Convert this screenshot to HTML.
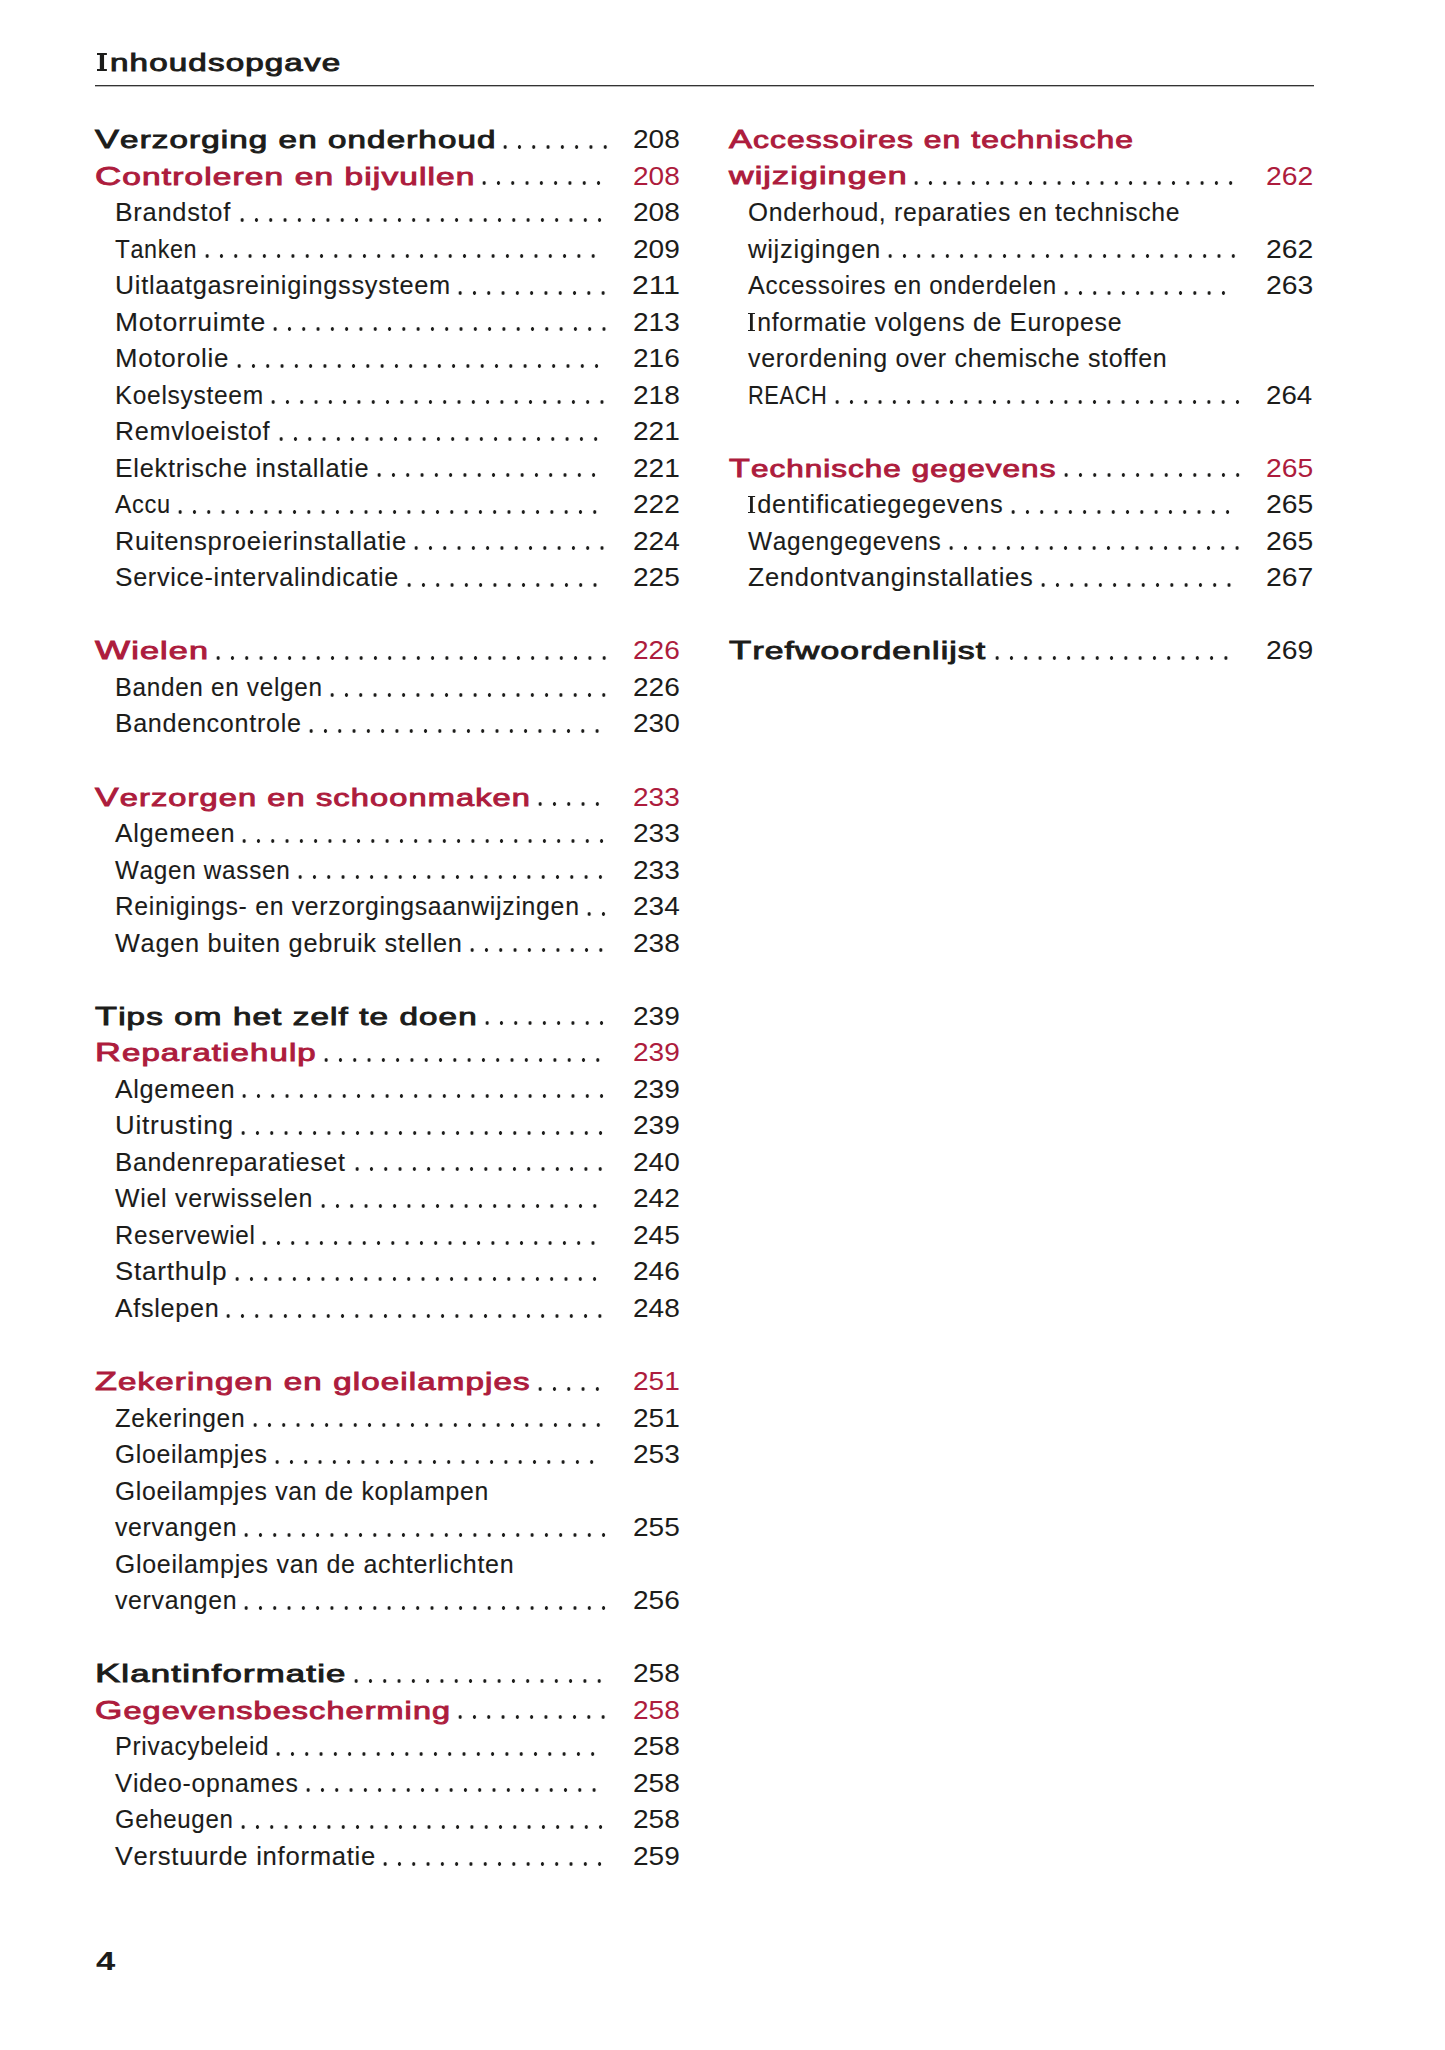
<!DOCTYPE html>
<html lang="nl"><head><meta charset="utf-8"><title>Inhoudsopgave</title>
<style>
html,body{margin:0;padding:0;background:#fff;}
body{width:1445px;height:2050px;position:relative;overflow:hidden;font-family:"Liberation Sans",sans-serif;}
.t{position:absolute;line-height:30px;height:30px;white-space:nowrap;transform-origin:0 0;}
.s{font-size:25.0px;letter-spacing:0.7px;-webkit-text-stroke:0.1px currentColor;}
.s .u{font-size:26.0px;}
.h{font-size:23.5px;letter-spacing:0.8px;-webkit-text-stroke:0.9px currentColor;}
.h .u{font-size:25.5px;}
.n{font-size:25.5px;}
.hb{font-size:26px;font-weight:bold;}
.I{display:inline-block;overflow:hidden;box-sizing:border-box;vertical-align:baseline;border:0 solid currentColor;background-image:linear-gradient(currentColor,currentColor);background-repeat:no-repeat;background-position:50% 0;-webkit-text-fill-color:transparent;-webkit-text-stroke:0;font-size:12px;line-height:0;}
.d{position:absolute;height:6px;background-image:radial-gradient(circle at 7.15px 3px,#1c1c1a 1.5px,rgba(28,28,26,0) 2.0px);background-size:14.3px 6px;background-repeat:repeat-x;}
.rule{position:absolute;left:95px;top:85px;width:1218.5px;height:1px;background:#333;box-shadow:0 1px 0 rgba(51,51,51,0.35);}
</style></head><body>
<div class="rule"></div>
<div class="t h" style="left:95.40px;top:124.00px;color:#1c1c1a;transform:scaleX(1.4090)"><span class="u">V</span>erzorging en onderhoud</div>
<div class="t n" style="left:632.90px;top:124.00px;color:#1c1c1a;transform:scaleX(1.1005)">208</div>
<div class="t h" style="left:95.40px;top:160.53px;color:#ad1c3d;transform:scaleX(1.4224)"><span class="u">C</span>ontroleren en bijvullen</div>
<div class="t n" style="left:632.90px;top:160.53px;color:#ad1c3d;transform:scaleX(1.1005)">208</div>
<div class="t s" style="left:114.50px;top:197.06px;color:#1c1c1a;transform:scaleX(1.0177)"><span class="u">B</span>randstof</div>
<div class="t n" style="left:632.90px;top:197.06px;color:#1c1c1a;transform:scaleX(1.1005)">208</div>
<div class="t s" style="left:114.50px;top:233.59px;color:#1c1c1a;transform:scaleX(0.9323)"><span class="u">T</span>anken</div>
<div class="t n" style="left:632.90px;top:233.59px;color:#1c1c1a;transform:scaleX(1.1005)">209</div>
<div class="t s" style="left:114.50px;top:270.12px;color:#1c1c1a;transform:scaleX(1.0152)"><span class="u">U</span>itlaatgasreinigingssysteem</div>
<div class="t n" style="left:631.80px;top:270.12px;color:#1c1c1a;transform:scaleX(1.1801)">211</div>
<div class="t s" style="left:114.50px;top:306.65px;color:#1c1c1a;transform:scaleX(1.0641)"><span class="u">M</span>otorruimte</div>
<div class="t n" style="left:632.90px;top:306.65px;color:#1c1c1a;transform:scaleX(1.1005)">213</div>
<div class="t s" style="left:114.50px;top:343.18px;color:#1c1c1a;transform:scaleX(1.0387)"><span class="u">M</span>otorolie</div>
<div class="t n" style="left:632.90px;top:343.18px;color:#1c1c1a;transform:scaleX(1.1005)">216</div>
<div class="t s" style="left:114.50px;top:379.71px;color:#1c1c1a;transform:scaleX(0.9826)"><span class="u">K</span>oelsysteem</div>
<div class="t n" style="left:632.90px;top:379.71px;color:#1c1c1a;transform:scaleX(1.1005)">218</div>
<div class="t s" style="left:114.50px;top:416.24px;color:#1c1c1a;transform:scaleX(1.0104)"><span class="u">R</span>emvloeistof</div>
<div class="t n" style="left:632.90px;top:416.24px;color:#1c1c1a;transform:scaleX(1.1005)">221</div>
<div class="t s" style="left:114.50px;top:452.77px;color:#1c1c1a;transform:scaleX(1.0161)"><span class="u">E</span>lektrische installatie</div>
<div class="t n" style="left:632.90px;top:452.77px;color:#1c1c1a;transform:scaleX(1.1005)">221</div>
<div class="t s" style="left:114.50px;top:489.30px;color:#1c1c1a;transform:scaleX(0.9435)"><span class="u">A</span>ccu</div>
<div class="t n" style="left:632.90px;top:489.30px;color:#1c1c1a;transform:scaleX(1.1005)">222</div>
<div class="t s" style="left:114.50px;top:525.83px;color:#1c1c1a;transform:scaleX(1.0240)"><span class="u">R</span>uitensproeierinstallatie</div>
<div class="t n" style="left:632.90px;top:525.83px;color:#1c1c1a;transform:scaleX(1.0976)">224</div>
<div class="t s" style="left:114.50px;top:562.36px;color:#1c1c1a;transform:scaleX(1.0064)"><span class="u">S</span>ervice-intervalindicatie</div>
<div class="t n" style="left:632.90px;top:562.36px;color:#1c1c1a;transform:scaleX(1.1005)">225</div>
<div class="t h" style="left:95.40px;top:635.42px;color:#ad1c3d;transform:scaleX(1.4543)"><span class="u">W</span>ielen</div>
<div class="t n" style="left:632.90px;top:635.42px;color:#ad1c3d;transform:scaleX(1.1005)">226</div>
<div class="t s" style="left:114.50px;top:671.95px;color:#1c1c1a;transform:scaleX(0.9726)"><span class="u">B</span>anden en velgen</div>
<div class="t n" style="left:632.90px;top:671.95px;color:#1c1c1a;transform:scaleX(1.1005)">226</div>
<div class="t s" style="left:114.50px;top:708.48px;color:#1c1c1a;transform:scaleX(1.0055)"><span class="u">B</span>andencontrole</div>
<div class="t n" style="left:632.90px;top:708.48px;color:#1c1c1a;transform:scaleX(1.0976)">230</div>
<div class="t h" style="left:95.40px;top:781.54px;color:#ad1c3d;transform:scaleX(1.3864)"><span class="u">V</span>erzorgen en schoonmaken</div>
<div class="t n" style="left:632.90px;top:781.54px;color:#ad1c3d;transform:scaleX(1.1005)">233</div>
<div class="t s" style="left:114.50px;top:818.07px;color:#1c1c1a;transform:scaleX(1.0120)"><span class="u">A</span>lgemeen</div>
<div class="t n" style="left:632.90px;top:818.07px;color:#1c1c1a;transform:scaleX(1.1005)">233</div>
<div class="t s" style="left:114.50px;top:854.60px;color:#1c1c1a;transform:scaleX(0.9731)"><span class="u">W</span>agen wassen</div>
<div class="t n" style="left:632.90px;top:854.60px;color:#1c1c1a;transform:scaleX(1.1005)">233</div>
<div class="t s" style="left:114.50px;top:891.13px;color:#1c1c1a;transform:scaleX(0.9931)"><span class="u">R</span>einigings- en verzorgingsaanwijzingen</div>
<div class="t n" style="left:632.90px;top:891.13px;color:#1c1c1a;transform:scaleX(1.0976)">234</div>
<div class="t s" style="left:114.50px;top:927.66px;color:#1c1c1a;transform:scaleX(1.0135)"><span class="u">W</span>agen buiten gebruik stellen</div>
<div class="t n" style="left:632.90px;top:927.66px;color:#1c1c1a;transform:scaleX(1.1005)">238</div>
<div class="t h" style="left:95.40px;top:1000.72px;color:#1c1c1a;transform:scaleX(1.4110)"><span class="u">T</span>ips om het zelf te doen</div>
<div class="t n" style="left:632.90px;top:1000.72px;color:#1c1c1a;transform:scaleX(1.1005)">239</div>
<div class="t h" style="left:95.40px;top:1037.25px;color:#ad1c3d;transform:scaleX(1.4023)"><span class="u">R</span>eparatiehulp</div>
<div class="t n" style="left:632.90px;top:1037.25px;color:#ad1c3d;transform:scaleX(1.1005)">239</div>
<div class="t s" style="left:114.50px;top:1073.78px;color:#1c1c1a;transform:scaleX(1.0120)"><span class="u">A</span>lgemeen</div>
<div class="t n" style="left:632.90px;top:1073.78px;color:#1c1c1a;transform:scaleX(1.1005)">239</div>
<div class="t s" style="left:114.50px;top:1110.31px;color:#1c1c1a;transform:scaleX(1.0485)"><span class="u">U</span>itrusting</div>
<div class="t n" style="left:632.90px;top:1110.31px;color:#1c1c1a;transform:scaleX(1.1005)">239</div>
<div class="t s" style="left:114.50px;top:1146.84px;color:#1c1c1a;transform:scaleX(0.9966)"><span class="u">B</span>andenreparatieset</div>
<div class="t n" style="left:632.90px;top:1146.84px;color:#1c1c1a;transform:scaleX(1.0976)">240</div>
<div class="t s" style="left:114.50px;top:1183.37px;color:#1c1c1a;transform:scaleX(0.9990)"><span class="u">W</span>iel verwisselen</div>
<div class="t n" style="left:632.90px;top:1183.37px;color:#1c1c1a;transform:scaleX(1.1005)">242</div>
<div class="t s" style="left:114.50px;top:1219.90px;color:#1c1c1a;transform:scaleX(0.9719)"><span class="u">R</span>eservewiel</div>
<div class="t n" style="left:632.90px;top:1219.90px;color:#1c1c1a;transform:scaleX(1.1005)">245</div>
<div class="t s" style="left:114.50px;top:1256.43px;color:#1c1c1a;transform:scaleX(1.0493)"><span class="u">S</span>tarthulp</div>
<div class="t n" style="left:632.90px;top:1256.43px;color:#1c1c1a;transform:scaleX(1.1005)">246</div>
<div class="t s" style="left:114.50px;top:1292.96px;color:#1c1c1a;transform:scaleX(1.0079)"><span class="u">A</span>fslepen</div>
<div class="t n" style="left:632.90px;top:1292.96px;color:#1c1c1a;transform:scaleX(1.1005)">248</div>
<div class="t h" style="left:95.40px;top:1366.02px;color:#ad1c3d;transform:scaleX(1.4077)"><span class="u">Z</span>ekeringen en gloeilampjes</div>
<div class="t n" style="left:632.90px;top:1366.02px;color:#ad1c3d;transform:scaleX(1.1005)">251</div>
<div class="t s" style="left:114.50px;top:1402.55px;color:#1c1c1a;transform:scaleX(0.9817)"><span class="u">Z</span>ekeringen</div>
<div class="t n" style="left:632.90px;top:1402.55px;color:#1c1c1a;transform:scaleX(1.1005)">251</div>
<div class="t s" style="left:114.50px;top:1439.08px;color:#1c1c1a;transform:scaleX(0.9934)"><span class="u">G</span>loeilampjes</div>
<div class="t n" style="left:632.90px;top:1439.08px;color:#1c1c1a;transform:scaleX(1.1005)">253</div>
<div class="t s" style="left:114.50px;top:1475.61px;color:#1c1c1a;transform:scaleX(0.9925)"><span class="u">G</span>loeilampjes van de koplampen</div>
<div class="t s" style="left:114.50px;top:1512.14px;color:#1c1c1a;transform:scaleX(0.9934)">vervangen</div>
<div class="t n" style="left:632.90px;top:1512.14px;color:#1c1c1a;transform:scaleX(1.1005)">255</div>
<div class="t s" style="left:114.50px;top:1548.67px;color:#1c1c1a;transform:scaleX(1.0005)"><span class="u">G</span>loeilampjes van de achterlichten</div>
<div class="t s" style="left:114.50px;top:1585.20px;color:#1c1c1a;transform:scaleX(0.9934)">vervangen</div>
<div class="t n" style="left:632.90px;top:1585.20px;color:#1c1c1a;transform:scaleX(1.1005)">256</div>
<div class="t h" style="left:95.40px;top:1658.26px;color:#1c1c1a;transform:scaleX(1.4792)"><span class="u">K</span>lantinformatie</div>
<div class="t n" style="left:632.90px;top:1658.26px;color:#1c1c1a;transform:scaleX(1.1005)">258</div>
<div class="t h" style="left:95.40px;top:1694.79px;color:#ad1c3d;transform:scaleX(1.3780)"><span class="u">G</span>egevensbescherming</div>
<div class="t n" style="left:632.90px;top:1694.79px;color:#ad1c3d;transform:scaleX(1.1005)">258</div>
<div class="t s" style="left:114.50px;top:1731.32px;color:#1c1c1a;transform:scaleX(0.9732)"><span class="u">P</span>rivacybeleid</div>
<div class="t n" style="left:632.90px;top:1731.32px;color:#1c1c1a;transform:scaleX(1.1005)">258</div>
<div class="t s" style="left:114.50px;top:1767.85px;color:#1c1c1a;transform:scaleX(0.9924)"><span class="u">V</span>ideo-opnames</div>
<div class="t n" style="left:632.90px;top:1767.85px;color:#1c1c1a;transform:scaleX(1.1005)">258</div>
<div class="t s" style="left:114.50px;top:1804.38px;color:#1c1c1a;transform:scaleX(0.9620)"><span class="u">G</span>eheugen</div>
<div class="t n" style="left:632.90px;top:1804.38px;color:#1c1c1a;transform:scaleX(1.1005)">258</div>
<div class="t s" style="left:114.50px;top:1840.91px;color:#1c1c1a;transform:scaleX(1.0261)"><span class="u">V</span>erstuurde informatie</div>
<div class="t n" style="left:632.90px;top:1840.91px;color:#1c1c1a;transform:scaleX(1.1005)">259</div>
<div class="t h" style="left:729.00px;top:124.00px;color:#ad1c3d;transform:scaleX(1.3517)"><span class="u">A</span>ccessoires en technische</div>
<div class="t h" style="left:729.00px;top:160.53px;color:#ad1c3d;transform:scaleX(1.4443)">wijzigingen</div>
<div class="t n" style="left:1265.83px;top:160.53px;color:#ad1c3d;transform:scaleX(1.1102)">262</div>
<div class="t s" style="left:748.00px;top:197.06px;color:#1c1c1a;transform:scaleX(0.9899)"><span class="u">O</span>nderhoud, reparaties en technische</div>
<div class="t s" style="left:748.00px;top:233.59px;color:#1c1c1a;transform:scaleX(1.0235)">wijzigingen</div>
<div class="t n" style="left:1265.83px;top:233.59px;color:#1c1c1a;transform:scaleX(1.1102)">262</div>
<div class="t s" style="left:748.00px;top:270.12px;color:#1c1c1a;transform:scaleX(0.9660)"><span class="u">A</span>ccessoires en onderdelen</div>
<div class="t n" style="left:1265.83px;top:270.12px;color:#1c1c1a;transform:scaleX(1.1102)">263</div>
<div class="t s" style="left:748.00px;top:306.65px;color:#1c1c1a;transform:scaleX(0.9947)"><span class="I" style="width:7.038px;height:17.8px;border-top-width:1.7px;border-bottom-width:1.7px;background-size:2.815px 100%;margin-right:2.212px">I</span>nformatie volgens de <span class="u">E</span>uropese</div>
<div class="t s" style="left:748.00px;top:343.18px;color:#1c1c1a;transform:scaleX(1.0000)">verordening over chemische stoffen</div>
<div class="t s" style="left:748.00px;top:379.71px;color:#1c1c1a;transform:scaleX(0.8392)"><span class="u">REACH</span></div>
<div class="t n" style="left:1265.85px;top:379.71px;color:#1c1c1a;transform:scaleX(1.0861)">264</div>
<div class="t h" style="left:729.00px;top:452.77px;color:#ad1c3d;transform:scaleX(1.3361)"><span class="u">T</span>echnische gegevens</div>
<div class="t n" style="left:1265.83px;top:452.77px;color:#ad1c3d;transform:scaleX(1.1102)">265</div>
<div class="t s" style="left:748.00px;top:489.30px;color:#1c1c1a;transform:scaleX(1.0176)"><span class="I" style="width:6.879px;height:17.8px;border-top-width:1.7px;border-bottom-width:1.7px;background-size:2.752px 100%;margin-right:2.162px">I</span>dentificatiegegevens</div>
<div class="t n" style="left:1265.83px;top:489.30px;color:#1c1c1a;transform:scaleX(1.1102)">265</div>
<div class="t s" style="left:748.00px;top:525.83px;color:#1c1c1a;transform:scaleX(0.9786)"><span class="u">W</span>agengegevens</div>
<div class="t n" style="left:1265.83px;top:525.83px;color:#1c1c1a;transform:scaleX(1.1102)">265</div>
<div class="t s" style="left:748.00px;top:562.36px;color:#1c1c1a;transform:scaleX(1.0216)"><span class="u">Z</span>endontvanginstallaties</div>
<div class="t n" style="left:1265.83px;top:562.36px;color:#1c1c1a;transform:scaleX(1.1102)">267</div>
<div class="t h" style="left:729.00px;top:635.42px;color:#1c1c1a;transform:scaleX(1.4302)"><span class="u">T</span>refwoordenlijst</div>
<div class="t n" style="left:1265.83px;top:635.42px;color:#1c1c1a;transform:scaleX(1.1102)">269</div>
<div class="t h" style="left:96.85px;top:47.80px;color:#1c1c1a;transform:scaleX(1.4119)"><span class="I" style="width:7.082px;height:17.9px;border-top-width:2.3px;border-bottom-width:2.3px;background-size:3.329px 100%;margin-right:2.125px">I</span>nhoudsopgave</div>
<div class="t hb" style="left:95.85px;top:1945.70px;color:#1c1c1a;transform:scaleX(1.3300)">4</div>
<div class="d" style="left:497.85px;top:143.60px;width:114.40px"></div>
<div class="d" style="left:477.15px;top:180.13px;width:128.70px"></div>
<div class="d" style="left:234.85px;top:216.66px;width:371.80px"></div>
<div class="d" style="left:199.65px;top:253.19px;width:400.40px"></div>
<div class="d" style="left:453.35px;top:289.72px;width:157.30px"></div>
<div class="d" style="left:268.35px;top:326.25px;width:343.20px"></div>
<div class="d" style="left:232.15px;top:362.78px;width:371.80px"></div>
<div class="d" style="left:265.95px;top:399.31px;width:343.20px"></div>
<div class="d" style="left:273.75px;top:435.84px;width:328.90px"></div>
<div class="d" style="left:371.85px;top:472.37px;width:228.80px"></div>
<div class="d" style="left:172.55px;top:508.90px;width:429.00px"></div>
<div class="d" style="left:409.05px;top:545.43px;width:200.20px"></div>
<div class="d" style="left:401.55px;top:581.96px;width:200.20px"></div>
<div class="d" style="left:210.55px;top:655.02px;width:400.40px"></div>
<div class="d" style="left:325.15px;top:691.55px;width:286.00px"></div>
<div class="d" style="left:304.35px;top:728.08px;width:300.30px"></div>
<div class="d" style="left:533.05px;top:801.14px;width:71.50px"></div>
<div class="d" style="left:236.95px;top:837.67px;width:371.80px"></div>
<div class="d" style="left:292.65px;top:874.20px;width:314.60px"></div>
<div class="d" style="left:582.05px;top:910.73px;width:28.60px"></div>
<div class="d" style="left:465.25px;top:947.26px;width:143.00px"></div>
<div class="d" style="left:479.55px;top:1020.32px;width:128.70px"></div>
<div class="d" style="left:319.35px;top:1056.85px;width:286.00px"></div>
<div class="d" style="left:236.95px;top:1093.38px;width:371.80px"></div>
<div class="d" style="left:235.95px;top:1129.91px;width:371.80px"></div>
<div class="d" style="left:349.65px;top:1166.44px;width:257.40px"></div>
<div class="d" style="left:315.55px;top:1202.97px;width:286.00px"></div>
<div class="d" style="left:257.35px;top:1239.50px;width:343.20px"></div>
<div class="d" style="left:229.65px;top:1276.03px;width:371.80px"></div>
<div class="d" style="left:221.05px;top:1312.56px;width:386.10px"></div>
<div class="d" style="left:533.05px;top:1385.62px;width:71.50px"></div>
<div class="d" style="left:247.75px;top:1422.15px;width:357.50px"></div>
<div class="d" style="left:270.35px;top:1458.68px;width:328.90px"></div>
<div class="d" style="left:239.15px;top:1531.74px;width:371.80px"></div>
<div class="d" style="left:239.15px;top:1604.80px;width:371.80px"></div>
<div class="d" style="left:349.05px;top:1677.86px;width:257.40px"></div>
<div class="d" style="left:453.35px;top:1714.39px;width:157.30px"></div>
<div class="d" style="left:271.05px;top:1750.92px;width:328.90px"></div>
<div class="d" style="left:301.25px;top:1787.45px;width:300.30px"></div>
<div class="d" style="left:235.95px;top:1823.98px;width:371.80px"></div>
<div class="d" style="left:378.25px;top:1860.51px;width:228.80px"></div>
<div class="d" style="left:909.15px;top:180.13px;width:328.90px"></div>
<div class="d" style="left:882.85px;top:253.19px;width:357.50px"></div>
<div class="d" style="left:1059.15px;top:289.72px;width:171.60px"></div>
<div class="d" style="left:829.65px;top:399.31px;width:414.70px"></div>
<div class="d" style="left:1058.85px;top:472.37px;width:185.90px"></div>
<div class="d" style="left:1005.95px;top:508.90px;width:228.80px"></div>
<div class="d" style="left:944.05px;top:545.43px;width:300.30px"></div>
<div class="d" style="left:1035.85px;top:581.96px;width:200.20px"></div>
<div class="d" style="left:990.35px;top:655.02px;width:243.10px"></div>
</body></html>
